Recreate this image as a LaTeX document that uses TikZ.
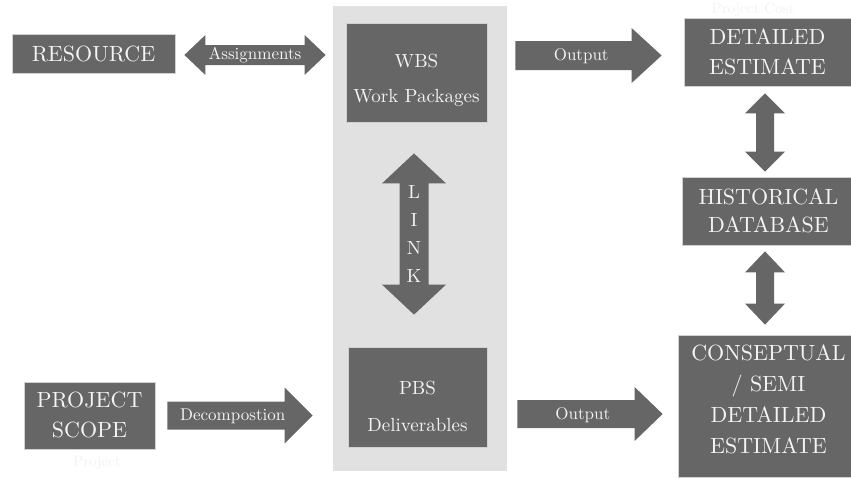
\documentclass[tikz,border=0pt]{standalone}
\usepackage{fontspec}
\setmainfont{lmroman10-regular}[Extension=.otf]
\usetikzlibrary{calc}

\definecolor{boxgrey}{HTML}{666666}
\definecolor{panelgrey}{HTML}{E1E1E1}
\definecolor{boxtext}{HTML}{F4F4F4}

% block arrow: tail, tip, shaft half width, head half width, head length, name
\newcommand{\onearrow}[6]{%
  \coordinate (#6-p) at ($(#2)!#5pt!(#1)$);
  \fill[blk] ($(#1)!#3pt!90:(#2)$) -- ($(#6-p)!#3pt!90:(#2)$) -- ($(#6-p)!#4pt!90:(#2)$) -- (#2)
    -- ($(#6-p)!#4pt!-90:(#2)$) -- ($(#6-p)!#3pt!-90:(#2)$) -- ($(#1)!#3pt!-90:(#2)$) -- cycle ;
}
% block arrow with two heads
\newcommand{\twoarrow}[6]{%
  \coordinate (#6-p) at ($(#2)!#5pt!(#1)$);
  \coordinate (#6-q) at ($(#1)!#5pt!(#2)$);
  \fill[blk] (#1) -- ($(#6-q)!#4pt!90:(#2)$) -- ($(#6-q)!#3pt!90:(#2)$) -- ($(#6-p)!#3pt!90:(#2)$)
    -- ($(#6-p)!#4pt!90:(#2)$) -- (#2) -- ($(#6-p)!#4pt!-90:(#2)$) -- ($(#6-p)!#3pt!-90:(#2)$)
    -- ($(#6-q)!#3pt!-90:(#2)$) -- ($(#6-q)!#4pt!-90:(#2)$) -- cycle ;
}

\tikzset{
  box/.style={fill=boxgrey, draw=black!18, line width=0.8pt, inner sep=0pt},
  boxtxt/.style={text=boxtext, align=center, inner sep=0pt, font=\fontsize{22}{30}\selectfont},
  subtxt/.style={text=boxtext, align=center, inner sep=0pt, font=\fontsize{19}{35}\selectfont},
  arrtxt/.style={text=boxtext, inner sep=0pt, font=\fontsize{17}{20}\selectfont},
  ghost/.style={text=black!5, inner sep=0pt, font=\fontsize{15}{18}\selectfont},
  blk/.style={fill=boxgrey},
}

\begin{document}
\begin{tikzpicture}[x=1pt,y=1pt,yscale=-1,xscale=1]
\useasboundingbox (0,0) rectangle (851,477);

%Shape: Rectangle [panel]
\node[fill=panelgrey, minimum width=174pt, minimum height=465pt, inner sep=0pt] (panel) at (420,238.5) {};

%Shape: Rectangle [boxes]
\node[box, minimum width=163pt, minimum height=39pt] (res) at (93.5,53.5) {};
\node[box, minimum width=131pt, minimum height=67pt] (scope) at (89.5,415.5) {};
\node[box, minimum width=141pt, minimum height=99pt] (wbs) at (416.5,72.5) {};
\node[box, minimum width=139pt, minimum height=100pt] (pbs) at (417.5,397) {};
\node[box, minimum width=167pt, minimum height=68pt] (det) at (767.5,52) {};
\node[box, minimum width=169pt, minimum height=68pt] (hist) at (766.5,211) {};
\node[box, minimum width=173pt, minimum height=142pt] (con) at (764.5,406) {};

% Text Node
\node[boxtxt] (res-t) at (res) {RESOURCE};
\node[boxtxt] (scope-t) at ($(scope)+(0,-1)$) {PROJECT\\SCOPE};
\node[subtxt] (wbs-t) at ($(wbs)+(0,8)$) {WBS\\Work Packages};
\node[subtxt, font=\fontsize{19}{37}\selectfont] (pbs-t) at ($(pbs)+(0,9)$) {PBS\\Deliverables};
\node[boxtxt] (det-t) at (det) {DETAILED\\ESTIMATE};
\node[boxtxt, font=\fontsize{22}{28}\selectfont] (hist-t) at ($(hist)+(2,0)$) {HISTORICAL\\DATABASE};
\node[boxtxt, font=\fontsize{22}{31}\selectfont] (con-t) at ($(con)+(4,-7)$) {CONSEPTUAL\\/ SEMI\\DETAILED\\ESTIMATE};

%Arrow ends
\coordinate (asg-l) at ($(res.east)+(9,1.5)$);
\coordinate (asg-r) at ($(asg-l -| wbs.west)+(-20,0)$);
\coordinate (out1-l) at ($(wbs.east |- det.west)+(28,3.5)$);
\coordinate (out1-r) at ($(out1-l -| det.west)+(-22,0)$);
\coordinate (out2-l) at ($(pbs.east)+(30,17)$);
\coordinate (out2-r) at ($(out2-l -| con.west)+(-15,0)$);
\coordinate (dec-l) at ($(scope.east)+(12,0)$);
\coordinate (dec-r) at ($(dec-l -| pbs.west)+(-35,0)$);
\coordinate (link-t) at ($(wbs.south)+(-2.5,31)$);
\coordinate (link-b) at ($(link-t |- pbs.north)+(0,-32)$);
\coordinate (db1-t) at ($(det.south)+(-2.5,7)$);
\coordinate (db1-b) at ($(db1-t |- hist.north)+(0,-5)$);
\coordinate (db2-t) at ($(db1-t |- hist.south)+(0,6)$);
\coordinate (db2-b) at ($(db1-t |- con.north)+(0,-10)$);

%Block arrows
\twoarrow{asg-l}{asg-r}{10}{20}{21}{asg}
\onearrow{out1-l}{out1-r}{14.5}{27.5}{30}{out1}
\onearrow{out2-l}{out2-r}{14}{27}{28}{out2}
\onearrow{dec-l}{dec-r}{14}{28}{28}{dec}
\twoarrow{link-t}{link-b}{14.5}{32}{30}{link}
\twoarrow{db1-t}{db1-b}{9}{20}{20}{db1}
\twoarrow{db2-t}{db2-b}{9}{20}{21}{db2}

% Text Node
\node[arrtxt] (asg-t) at ($(asg-l)!0.5!(asg-r)$) {Assignments};
\node[arrtxt] (out1-t) at ($(out1-l)!0.45!(out1-r)+(0,1)$) {Output};
\node[arrtxt] (out2-t) at ($(out2-l)!0.45!(out2-r)+(0,1)$) {Output};
\node[arrtxt] (dec-t) at ($(dec-l)!0.45!(dec-r)+(0,1)$) {Decompostion};
\node[arrtxt, align=center, font=\fontsize{19}{28}\selectfont] (link-t) at ($(link-t)!0.5!(link-b)$) {L\\I\\N\\K};

% faint text
\node[ghost] (ghost1) at (97,463) {Project};
\node[ghost, anchor=base] (ghost2) at (753,13) {Project Cost};

\end{tikzpicture}
\end{document}
